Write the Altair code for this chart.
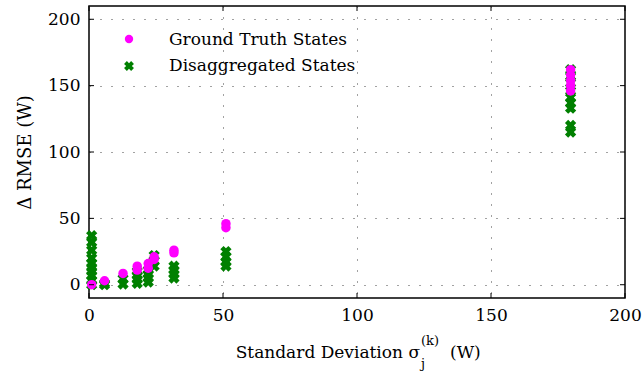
import altair as alt
import pandas as pd

# Ground truth states (magenta)
gt_x = [1, 5.8, 12.7, 18, 18, 22.1, 22.1, 24.3, 24.3, 31.7, 31.7, 51.1, 51.1,
        179.7, 179.7, 179.7, 179.7, 179.7]
gt_y = [0, 3, 8.5, 11, 14, 12.5, 16, 19, 21, 24, 26, 43, 46,
        146, 150, 154, 158, 162]

# Disaggregated states (green)
dg_x = [1, 1, 1, 1, 1, 1, 1, 1, 1, 1,
        5.8, 5.8,
        12.7, 12.7,
        18, 18, 18, 18,
        22.1, 22.1, 22.1, 22.1,
        24.3, 24.3, 24.3,
        31.7, 31.7, 31.7, 31.7,
        51.1, 51.1, 51.1, 51.1,
        179.7, 179.7, 179.7, 179.7, 179.7, 179.7, 179.7, 179.7, 179.7]
dg_y = [0, 3, 7, 10, 13, 16, 20, 26, 32, 37,
        0, 1,
        0.5, 4.5,
        1, 4, 7, 10,
        2, 5, 8, 11,
        14, 18, 22,
        5, 8, 11, 14,
        14, 17, 21, 25,
        115, 120, 133, 137, 141, 146, 152, 157, 162]

x_ticks = [0, 50, 100, 150, 200]
y_ticks = [0, 50, 100, 150, 200]
legend_labels = ["Ground Truth States", "Disaggregated States"]

W, H = 536, 292
FONT = "DejaVu Serif"
FS = 17
MAGENTA = "#FF00FF"
GREEN = "#008000"

gt = pd.DataFrame({"x": gt_x, "y": gt_y})
dg = pd.DataFrame({"x": dg_x, "y": dg_y})
xt = pd.DataFrame({"v": x_ticks})
yt = pd.DataFrame({"v": y_ticks})

xs = alt.Scale(domain=[0, 200], nice=False, zero=False)
ys = alt.Scale(domain=[-10, 210], nice=False, zero=False)

x_axis = alt.Axis(values=x_ticks, grid=True, gridDash=[1, 10], gridColor="#444444",
                  gridWidth=1, ticks=False, domain=False, labelFont=FONT,
                  labelFontSize=FS, labelColor="black", labelPadding=9,
                  labelFlush=False, title=None)
y_axis = alt.Axis(values=y_ticks, grid=True, gridDash=[1, 10], gridColor="#444444",
                  gridWidth=1, ticks=False, domain=False, labelFont=FONT,
                  labelFontSize=FS, labelColor="black", labelPadding=9,
                  labelFlush=False,
                  title="Δ RMSE (W)", titleFont=FONT, titleFontSize=18,
                  titleFontWeight="normal", titleColor="black", titlePadding=13)

green = alt.Chart(dg).mark_point(shape="cross", angle=45, filled=True, size=130,
                                 color=GREEN, opacity=1).encode(
    x=alt.X("x:Q", scale=xs, axis=x_axis),
    y=alt.Y("y:Q", scale=ys, axis=y_axis),
)
magenta = alt.Chart(gt).mark_circle(size=90, color=MAGENTA, opacity=1).encode(
    x=alt.X("x:Q", scale=xs),
    y=alt.Y("y:Q", scale=ys),
)

tick_len = 5
xt_bot = alt.Chart(xt).mark_rule(color="black", strokeWidth=1).encode(
    x=alt.X("v:Q", scale=xs), y=alt.value(H), y2=alt.value(H - tick_len))
xt_top = alt.Chart(xt).mark_rule(color="black", strokeWidth=1).encode(
    x=alt.X("v:Q", scale=xs), y=alt.value(0), y2=alt.value(tick_len))
yt_left = alt.Chart(yt).mark_rule(color="black", strokeWidth=1).encode(
    y=alt.Y("v:Q", scale=ys), x=alt.value(0), x2=alt.value(tick_len))
yt_right = alt.Chart(yt).mark_rule(color="black", strokeWidth=1).encode(
    y=alt.Y("v:Q", scale=ys), x=alt.value(W), x2=alt.value(W - tick_len))

# Legend
leg_gt_sym = alt.Chart(pd.DataFrame({"l": [legend_labels[0]]})).mark_circle(
    size=70, color=MAGENTA, opacity=1).encode(x=alt.value(40), y=alt.value(33))
leg_dg_sym = alt.Chart(pd.DataFrame({"l": [legend_labels[1]]})).mark_point(
    shape="cross", angle=45, filled=True, size=100, color=GREEN, opacity=1).encode(
    x=alt.value(40), y=alt.value(60))
leg_gt_txt = alt.Chart(pd.DataFrame({"l": [legend_labels[0]]})).mark_text(
    font=FONT, fontSize=FS, align="left", baseline="middle", color="black").encode(
    text="l:N", x=alt.value(80), y=alt.value(34))
leg_dg_txt = alt.Chart(pd.DataFrame({"l": [legend_labels[1]]})).mark_text(
    font=FONT, fontSize=FS, align="left", baseline="middle", color="black").encode(
    text="l:N", x=alt.value(80), y=alt.value(60))

# X axis title with sub/superscript
t_main = alt.Chart(pd.DataFrame({"t": ["Standard Deviation σ"]})).mark_text(
    font=FONT, fontSize=FS, align="right", baseline="alphabetic", color="black").encode(
    text="t:N", x=alt.value(331), y=alt.value(352))
t_sup = alt.Chart(pd.DataFrame({"t": ["(k)"]})).mark_text(
    font=FONT, fontSize=13, align="left", baseline="alphabetic", color="black").encode(
    text="t:N", x=alt.value(332), y=alt.value(339))
t_sub = alt.Chart(pd.DataFrame({"t": ["j"]})).mark_text(
    font=FONT, fontSize=13, align="left", baseline="alphabetic", color="black").encode(
    text="t:N", x=alt.value(332), y=alt.value(362))
t_end = alt.Chart(pd.DataFrame({"t": ["(W)"]})).mark_text(
    font=FONT, fontSize=FS, align="left", baseline="alphabetic", color="black").encode(
    text="t:N", x=alt.value(361), y=alt.value(352))

chart = alt.layer(
    green, magenta, xt_bot, xt_top, yt_left, yt_right,
    leg_gt_sym, leg_dg_sym, leg_gt_txt, leg_dg_txt,
    t_main, t_sup, t_sub, t_end,
).properties(
    width=W, height=H,
    autosize=alt.AutoSizeParams(type="none"),
    padding={"left": 89, "top": 6, "right": 17, "bottom": 77},
).configure_view(
    stroke="black", strokeWidth=1.5
)

chart.save("out.html", embed_options={"renderer": "svg", "actions": False})
